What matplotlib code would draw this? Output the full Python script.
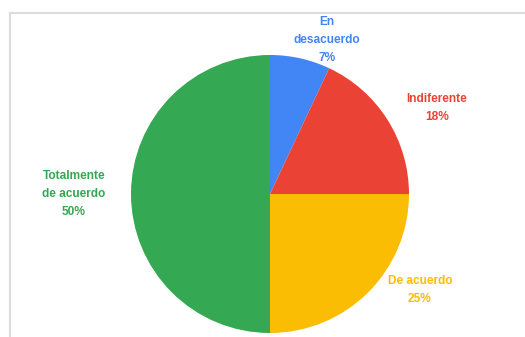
import matplotlib
matplotlib.use("Agg")
import matplotlib.pyplot as plt
from matplotlib.lines import Line2D

categories = ["En\ndesacuerdo", "Indiferente", "De acuerdo", "Totalmente\nde acuerdo"]
values = [7, 18, 25, 50]
colors = ["#4285F4", "#EA4335", "#FBBC04", "#34A853"]

W, H = 525, 337
fig = plt.figure(figsize=(W / 100, H / 100), dpi=100)
ax = fig.add_axes([0, 0, 1, 1])

cx, cy, r = 270, H - 194, 139
ax.pie(values, colors=colors, startangle=90, counterclock=False,
       center=(cx, cy), radius=r, frame=True,
       wedgeprops=dict(linewidth=0))
ax.set_xlim(0, W)
ax.set_ylim(0, H)
ax.set_aspect("equal")
ax.axis("off")

# label positions (pixels from top-left)
label_pos = [(327, 40), (437, 108), (420, 290), (74, 194)]
for cat, v, c, (x, y) in zip(categories, values, colors, label_pos):
    ax.text(x, H - y, f"{cat}\n{v}%", color=c, ha="center", va="center",
            fontsize=8.6, fontweight="bold", family="Liberation Sans",
            linespacing=1.65)

# frame lines on top and left
fig.add_artist(Line2D([10 / W, 1], [1 - 13 / H, 1 - 13 / H],
                      transform=fig.transFigure, color="#dcdcdc", lw=1.5))
fig.add_artist(Line2D([10 / W, 10 / W], [0, 1 - 13 / H],
                      transform=fig.transFigure, color="#dcdcdc", lw=1.5))

fig.savefig("out.png", dpi=100, facecolor="white")
